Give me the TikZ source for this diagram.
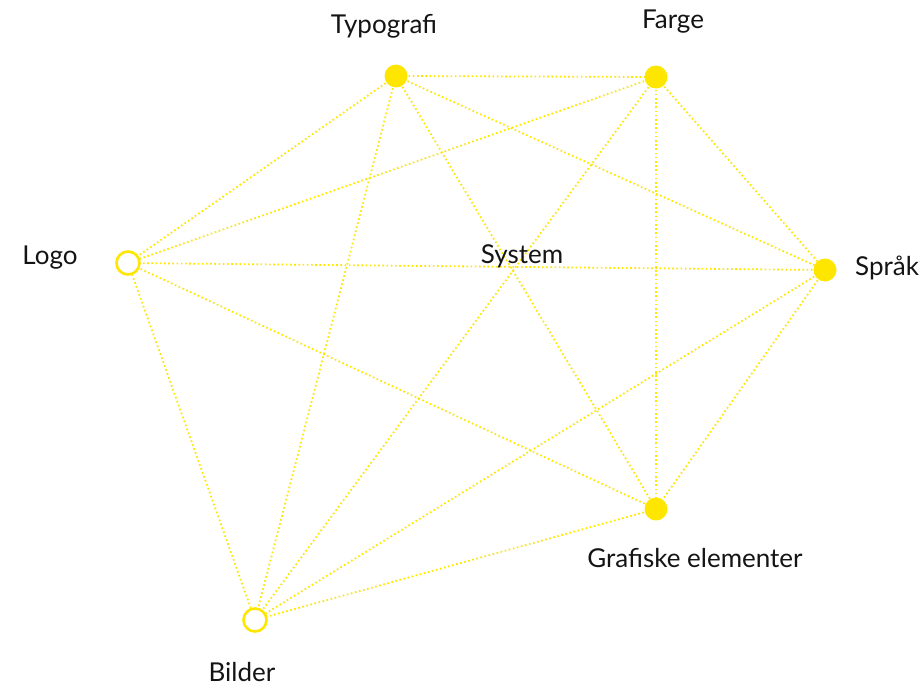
\documentclass[tikz,border=0pt]{standalone}
\usepackage{fontspec}
\setmainfont{Lato}
\begin{document}
\begin{tikzpicture}[x=1pt,y=-1pt,
  edge/.style={draw={rgb,255:red,255;green,230;blue,0}, line width=1.8pt, dash pattern=on 1.6pt off 2.6pt},
  full/.style={circle, fill={rgb,255:red,255;green,230;blue,0}, minimum size=23pt, inner sep=0pt},
  hollow/.style={circle, draw={rgb,255:red,255;green,230;blue,0}, line width=2.6pt, fill=white, minimum size=23pt, inner sep=0pt},
  lbl/.style={font=\fontsize{26}{30}\selectfont, text=black!92, inner sep=0pt}]
\useasboundingbox (0,0) rectangle (922,688);
\coordinate (t) at (396,76);
\coordinate (f) at (656,77);
\coordinate (s) at (825,270);
\coordinate (g) at (656,509);
\coordinate (b) at (255,620);
\coordinate (l) at (128,263);
\foreach \a/\b in {t/f,t/s,t/g,t/b,t/l,f/s,f/g,f/b,f/l,s/g,s/b,s/l,g/b,g/l,b/l}
  \draw[edge] (\a) -- (\b);
\node[full] (T) at (t) {};
\node[full] (F) at (f) {};
\node[full] (S) at (s) {};
\node[full] (G) at (g) {};
\node[hollow] (B) at (b) {};
\node[hollow] (L) at (l) {};
\node[lbl] (tl) at (384,26) {Typografi};
\node[lbl] (fl) at (673,22) {Farge};
\node[lbl, anchor=west] (sl) at (855,268) {Språk};
\node[lbl] (ll) at (50,258) {Logo};
\node[lbl] (gl) at (695,558) {Grafiske elementer};
\node[lbl] (bl) at (242,672) {Bilder};
\node[lbl] (sy) at (522,256) {System};
\end{tikzpicture}
\end{document}
